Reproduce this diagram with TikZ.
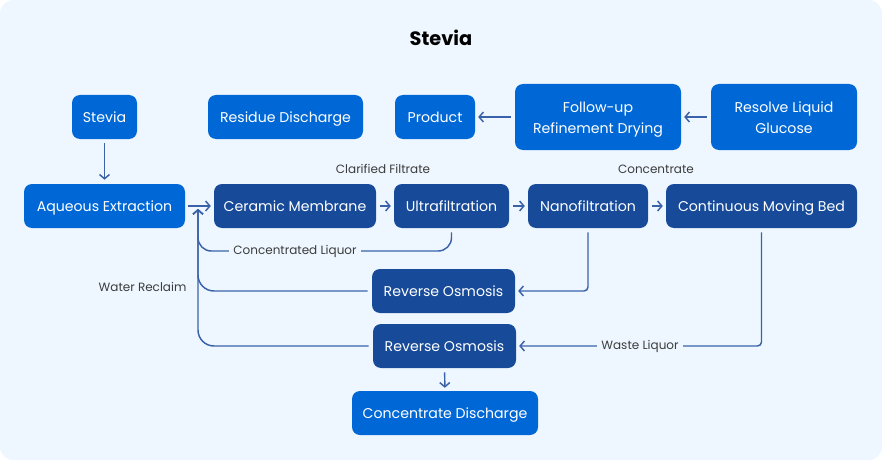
\documentclass[tikz,border=0pt]{standalone}
\usepackage{fontspec}
\setmainfont{Poppins}
\usetikzlibrary{arrows.meta}
\definecolor{bgc}{HTML}{EEF7FF}
\definecolor{brightc}{HTML}{0068D6}
\definecolor{darkc}{HTML}{174A99}
\definecolor{edgec}{HTML}{3A62A8}
\definecolor{lblc}{HTML}{3C3C3C}
\tikzset{
  box/.style={rounded corners=6pt, text=white, font=\fontsize{10.6}{15.75}\selectfont, align=center, inner sep=0pt, minimum height=44*0.75pt, text height=10.4pt, text depth=1.8pt},
  twoline/.style={text height=26pt, text depth=1.8pt, minimum height=66*0.75pt},
  brightbox/.style={box, fill=brightc},
  darkbox/.style={box, fill=darkc},
  conn/.style={draw=edgec, line width=1.1pt, -{Straight Barb[length=3.2pt,width=7.5pt,line width=1.1pt]}},
  lbl/.style={text=lblc, font=\fontsize{9}{11}\selectfont, inner sep=1pt},
  lblbg/.style={lbl, fill=bgc, inner sep=3pt}
}
\begin{document}
\begin{tikzpicture}[x=0.75pt,y=-0.75pt]
\useasboundingbox (0,0) rectangle (882,460);
\fill[bgc, rounded corners=10pt] (0,0) rectangle (882,460);
\node[font=\fontsize{14.5}{17}\bfseries\selectfont, text=black] (title) at (441,38) {Stevia};

\node[brightbox, minimum width=65*0.75pt] (stevia) at (104.5,117) {Stevia};
\node[brightbox, minimum width=155*0.75pt] (residue) at (285.5,117) {Residue Discharge};
\node[brightbox, minimum width=80*0.75pt] (product) at (435,117) {Product};
\node[brightbox, twoline, minimum width=166*0.75pt] (follow) at (598,117) {Follow-up\\Refinement Drying};
\node[brightbox, twoline, minimum width=146*0.75pt] (resolve) at (784,117) {Resolve Liquid\\Glucose};

\node[brightbox, minimum width=161*0.75pt] (aqueous) at (104.5,206) {Aqueous Extraction};
\node[darkbox, minimum width=162*0.75pt] (ceramic) at (295,206) {Ceramic Membrane};
\node[darkbox, minimum width=115*0.75pt] (ultra) at (451.5,206) {Ultrafiltration};
\node[darkbox, minimum width=120*0.75pt] (nano) at (588,206) {Nanofiltration};
\node[darkbox, minimum width=191*0.75pt] (cmb) at (761.5,206) {Continuous Moving Bed};

\node[darkbox, minimum width=143*0.75pt] (ro1) at (443.5,291) {Reverse Osmosis};
\node[darkbox, minimum width=143*0.75pt] (ro2) at (444.5,346) {Reverse Osmosis};
\node[brightbox, minimum width=186*0.75pt] (cdis) at (445,413) {Concentrate Discharge};

\coordinate (ret) at (198,209);

\draw[conn, shorten <=3pt, shorten >=3pt] (stevia) -- (aqueous);
\draw[conn, shorten <=2.2pt, shorten >=2.2pt] (aqueous) -- (ceramic);
\draw[conn, shorten <=3pt, shorten >=2.2pt] (ceramic) -- (ultra);
\draw[conn, shorten <=3pt, shorten >=2.2pt] (ultra) -- (nano);
\draw[conn, shorten <=3pt, shorten >=2.2pt] (nano) -- (cmb);
\draw[conn, shorten <=3pt, shorten >=2.2pt] (follow) -- (product);
\draw[conn, shorten <=3pt, shorten >=2.2pt] (resolve) -- (follow);
\draw[conn, shorten <=3pt, shorten >=2.2pt] (ro2) -- (cdis);

\node[lbl] (lcf) at (383,169) {Clarified Filtrate};
\node[lbl] (lcon) at (656,169) {Concentrate};

\draw[conn, rounded corners=10pt, shorten <=3pt] (ultra.south) -- (ultra.south |- 0,251) -- (198,251) -- (ret);
\node[lblbg] (lcl) at (295,251) {Concentrated Liquor};

\draw[conn, rounded corners=3pt, shorten <=3pt, shorten >=2.2pt] (nano.south) -- (nano.south |- ro1.east) -- (ro1.east);
\draw[conn, rounded corners=12pt, shorten <=3pt] (ro1.west) -- (198,291) -- (ret);
\draw[conn, rounded corners=12pt, shorten <=3pt] (ro2.west) -- (198,346) -- (ret);
\draw[conn, rounded corners=3pt, shorten <=3pt, shorten >=2.2pt] (cmb.south) -- (cmb.south |- ro2.east) -- (ro2.east);
\node[lblbg] (lwl) at (640,346) {Waste Liquor};
\node[lbl, anchor=east] (lwr) at (188,287) {Water Reclaim};
\end{tikzpicture}
\end{document}
